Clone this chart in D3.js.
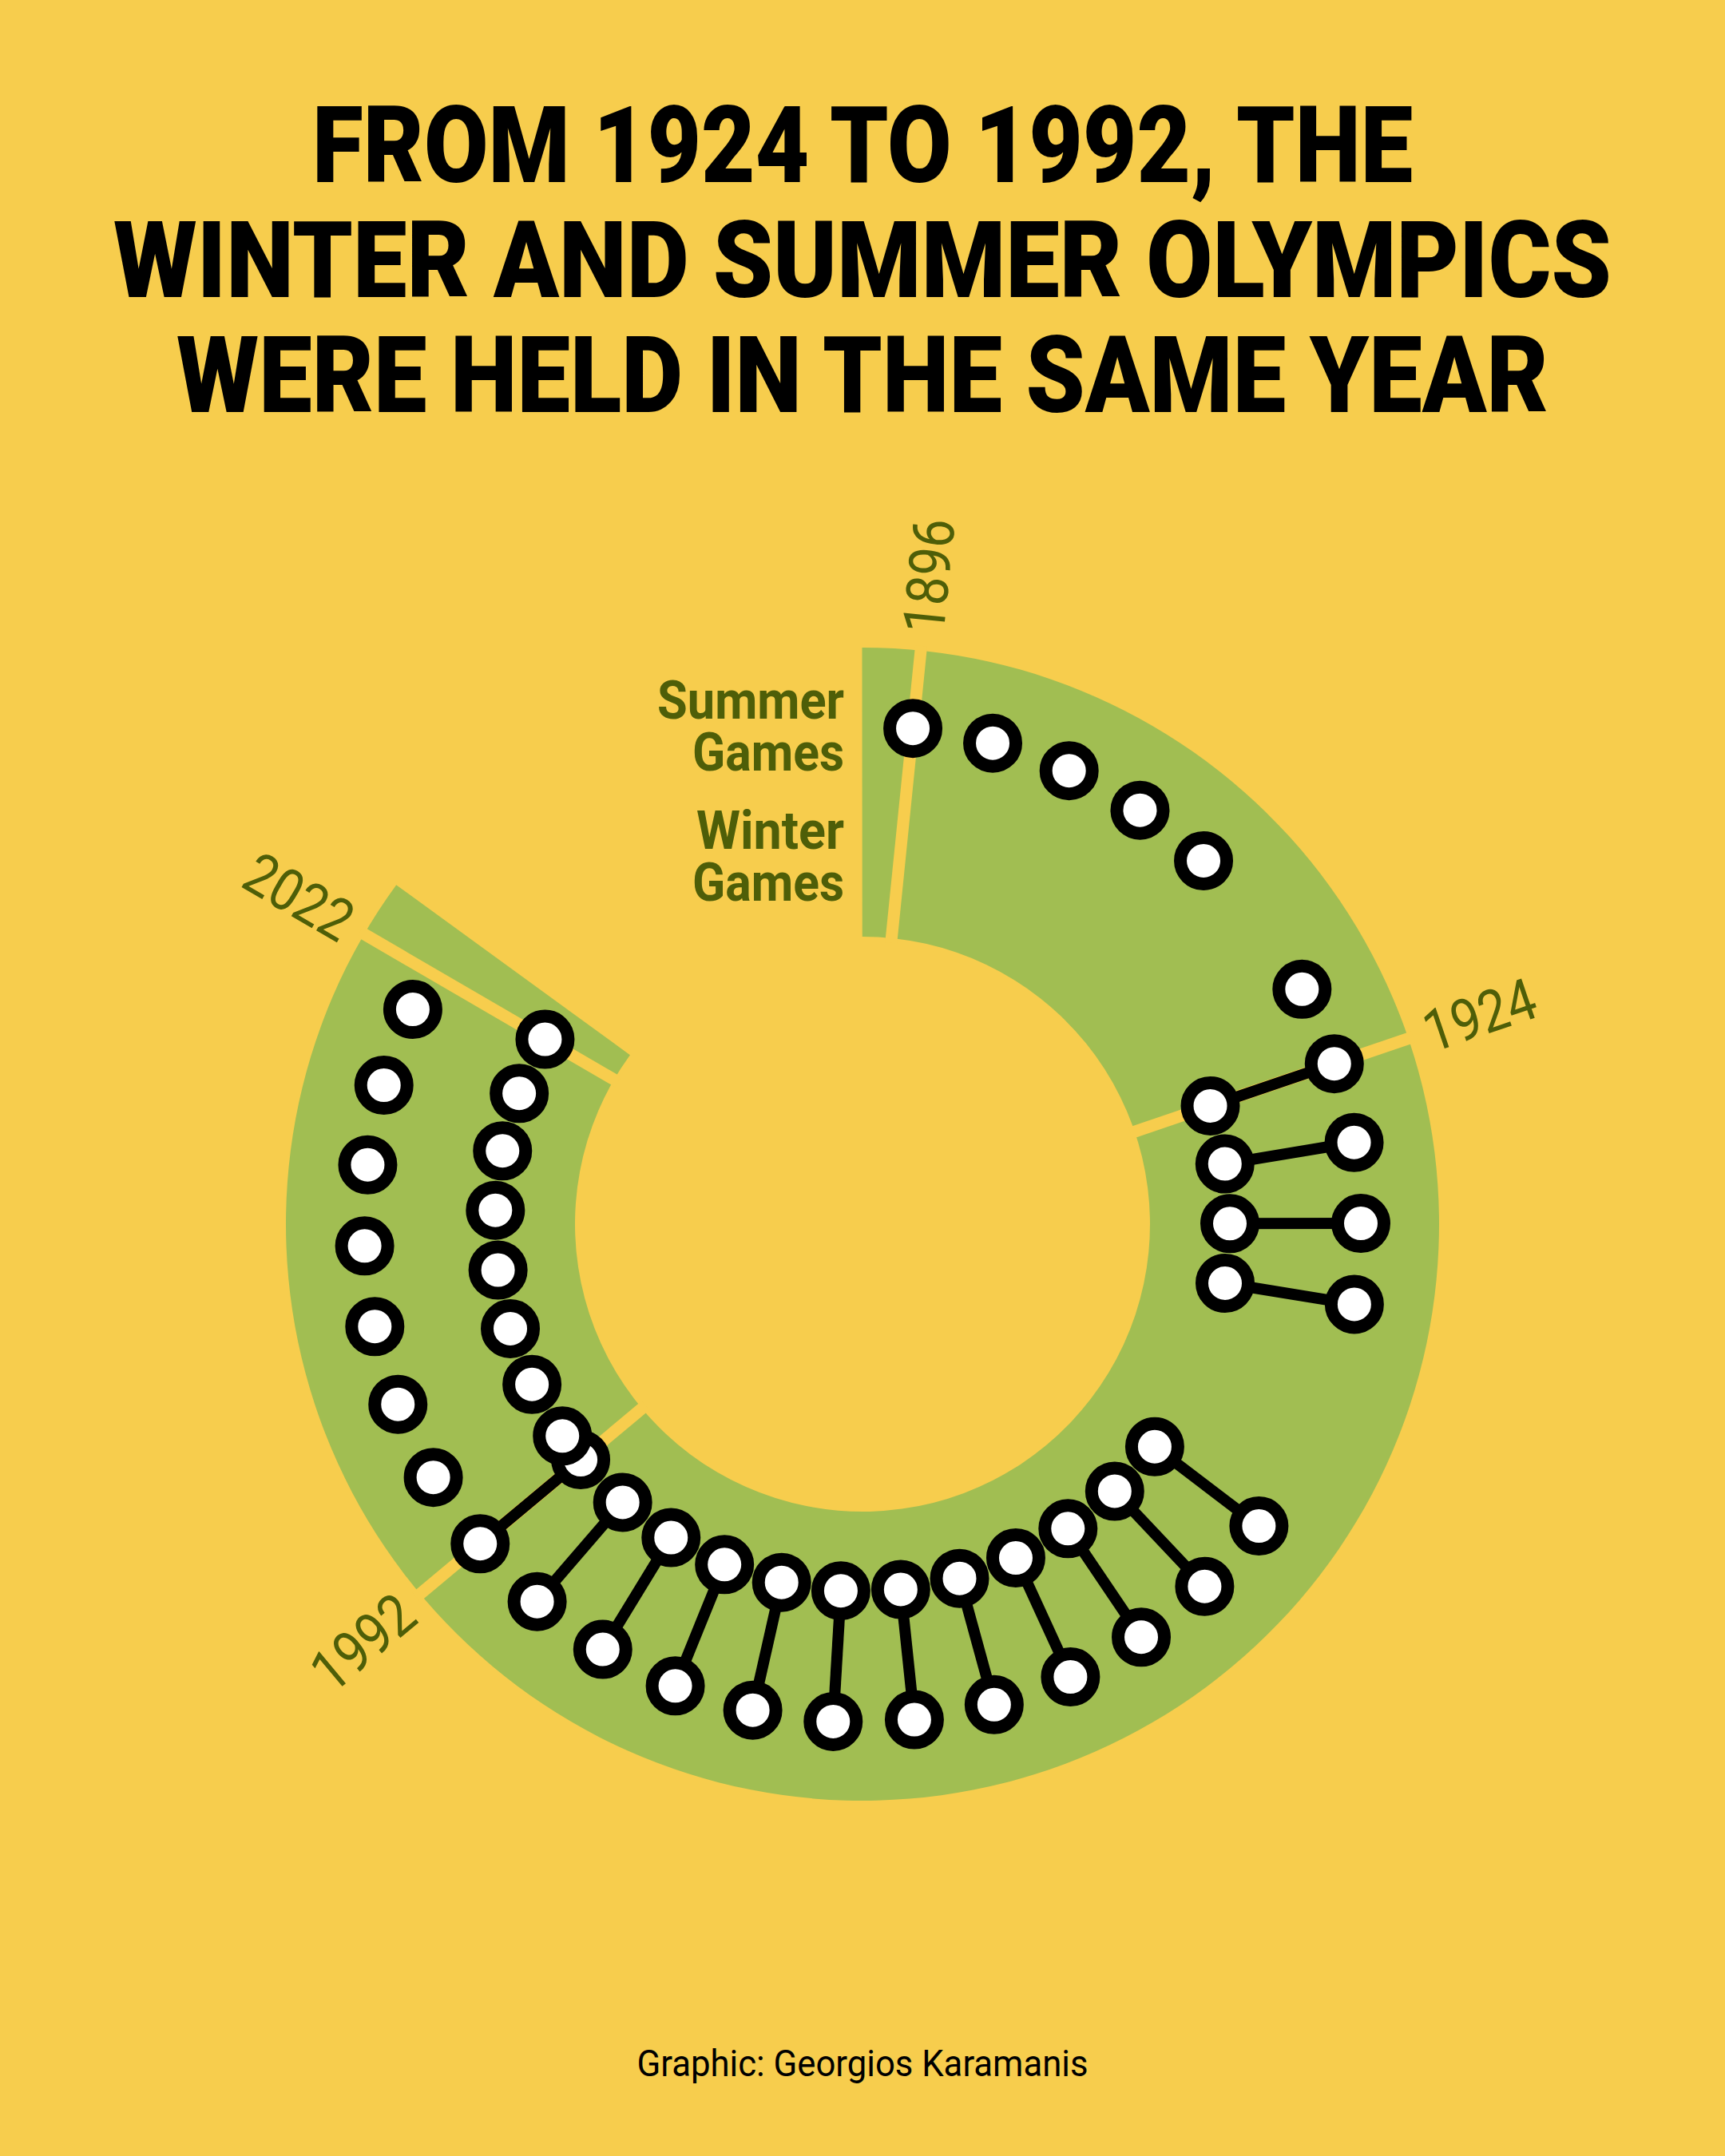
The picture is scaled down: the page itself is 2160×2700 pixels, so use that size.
<!DOCTYPE html>
<html>
<head>
<meta charset="utf-8">
<script src="https://cdn.jsdelivr.net/npm/d3@7"></script>
<style>
  body { margin: 0; background: #F7CD4D; }
  svg { display: block; }
</style>
</head>
<body>
<div id="chart"></div>
<script>
// olympic years (summer on the outer track, winter on the inner one)
var summerYears = [1896, 1900, 1904, 1908, 1912, 1920, 1924, 1928, 1932, 1936,
  1948, 1952, 1956, 1960, 1964, 1968, 1972, 1976, 1980, 1984, 1988, 1992,
  1996, 2000, 2004, 2008, 2012, 2016, 2020];
var winterYears = [1924, 1928, 1932, 1936, 1948, 1952, 1956, 1960, 1964, 1968,
  1972, 1976, 1980, 1984, 1988, 1992, 1994, 1998, 2002, 2006, 2010, 2014, 2018, 2022];
var markYears = [1896, 1924, 1992, 2022];

var titleLines = ["FROM 1924 TO 1992, THE", "WINTER AND SUMMER OLYMPICS", "WERE HELD IN THE SAME YEAR"];
var legendLines = ["Summer", "Games", "Winter", "Games"];
var caption = "Graphic: Georgios Karamanis";

var width = 2160,
    height = 2700,
    cx = 1080,
    cy = 1533;

var bg = "#F7CD4D",
    green = "#A1BE52",
    olive = "#4E5E08";

var deg = Math.PI / 180;

var svg = d3.select("#chart").append("svg")
    .attr("width", width)
    .attr("height", height);

svg.append("rect")
    .attr("width", width)
    .attr("height", height)
    .attr("fill", bg);

// title
var titleW = [1378, 1876, 1718];
svg.append("g").selectAll("text")
  .data(titleLines)
  .join("text")
    .attr("x", cx)
    .attr("y", (d, i) => 228 + i * 144)
    .attr("text-anchor", "middle")
    .attr("font-family", "Roboto, 'Noto Sans', sans-serif")
    .attr("font-weight", 900)
    .attr("font-size", 134)
    .attr("textLength", (d, i) => titleW[i])
    .attr("lengthAdjust", "spacingAndGlyphs")
    .attr("fill", "#000")
    .text(d => d);

// year -> angle (0 = top, clockwise)
var angle = d3.scaleLinear()
    .domain([1896, 2022])
    .range([5.8 * deg, 300.2 * deg]);

var rIn = 360, rOut = 722, rSummer = 624, rWinter = 460;

var g = svg.append("g")
    .attr("transform", "translate(" + cx + "," + cy + ")");

// green band
var arc = d3.arc()
    .innerRadius(rIn)
    .outerRadius(rOut)
    .startAngle(angle(1893.5))
    .endAngle(angle(2024.5));

g.append("path")
    .attr("d", arc())
    .attr("fill", green);

// separators at marked years
g.selectAll("line.sep")
  .data(markYears)
  .join("line")
    .attr("class", "sep")
    .each(function (d) {
      var a = d3.pointRadial(angle(d), rIn - 6),
          b = d3.pointRadial(angle(d), rOut + 6);
      d3.select(this)
        .attr("x1", a[0]).attr("y1", a[1])
        .attr("x2", b[0]).attr("y2", b[1]);
    })
    .attr("stroke", bg)
    .attr("stroke-width", 15);

// year labels along the radius, flipped on the left side
g.selectAll("text.year")
  .data(markYears)
  .join("text")
    .attr("class", "year")
    .attr("transform", d => {
      var a = angle(d) / deg,
          p = d3.pointRadial(angle(d), 744);
      var rot = a < 180 ? a - 90 : a + 90;
      return "translate(" + p[0] + "," + p[1] + ") rotate(" + rot + ")";
    })
    .attr("text-anchor", d => angle(d) / deg < 180 ? "start" : "end")
    .attr("dy", "0.36em")
    .attr("font-family", "Roboto, sans-serif")
    .attr("font-size", 73)
    .attr("textLength", 144)
    .attr("lengthAdjust", "spacingAndGlyphs")
    .attr("fill", olive)
    .text(d => d);

// connectors for years with both games
var both = summerYears.filter(y => winterYears.includes(y));
g.selectAll("line.pair")
  .data(both)
  .join("line")
    .attr("class", "pair")
    .each(function (d) {
      var a = d3.pointRadial(angle(d), rSummer),
          b = d3.pointRadial(angle(d), rWinter);
      d3.select(this)
        .attr("x1", a[0]).attr("y1", a[1])
        .attr("x2", b[0]).attr("y2", b[1]);
    })
    .attr("stroke", "#000")
    .attr("stroke-width", 14);

// dots, later years drawn on top
var games = summerYears.map(y => ({ year: y, r: rSummer }))
  .concat(winterYears.map(y => ({ year: y, r: rWinter })))
  .sort((a, b) => a.year - b.year);

g.selectAll("circle")
  .data(games)
  .join("circle")
    .attr("cx", d => d3.pointRadial(angle(d.year), d.r)[0])
    .attr("cy", d => d3.pointRadial(angle(d.year), d.r)[1])
    .attr("r", 29)
    .attr("fill", "#fff")
    .attr("stroke", "#000")
    .attr("stroke-width", 16);

// legend next to the start of the band
var legendY = [900, 965, 1063, 1128],
    legendW = [234, 190, 185, 190];
svg.append("g").selectAll("text")
  .data(legendLines)
  .join("text")
    .attr("x", 1057)
    .attr("y", (d, i) => legendY[i])
    .attr("text-anchor", "end")
    .attr("font-family", "Roboto, sans-serif")
    .attr("font-weight", 700)
    .attr("font-size", 66)
    .attr("textLength", (d, i) => legendW[i])
    .attr("lengthAdjust", "spacingAndGlyphs")
    .attr("fill", olive)
    .text(d => d);

// caption
svg.append("text")
    .attr("x", cx)
    .attr("y", 2600)
    .attr("text-anchor", "middle")
    .attr("font-family", "Roboto, sans-serif")
    .attr("font-size", 46)
    .attr("textLength", 565)
    .attr("lengthAdjust", "spacingAndGlyphs")
    .attr("fill", "#000")
    .text(caption);
</script>
</body>
</html>
